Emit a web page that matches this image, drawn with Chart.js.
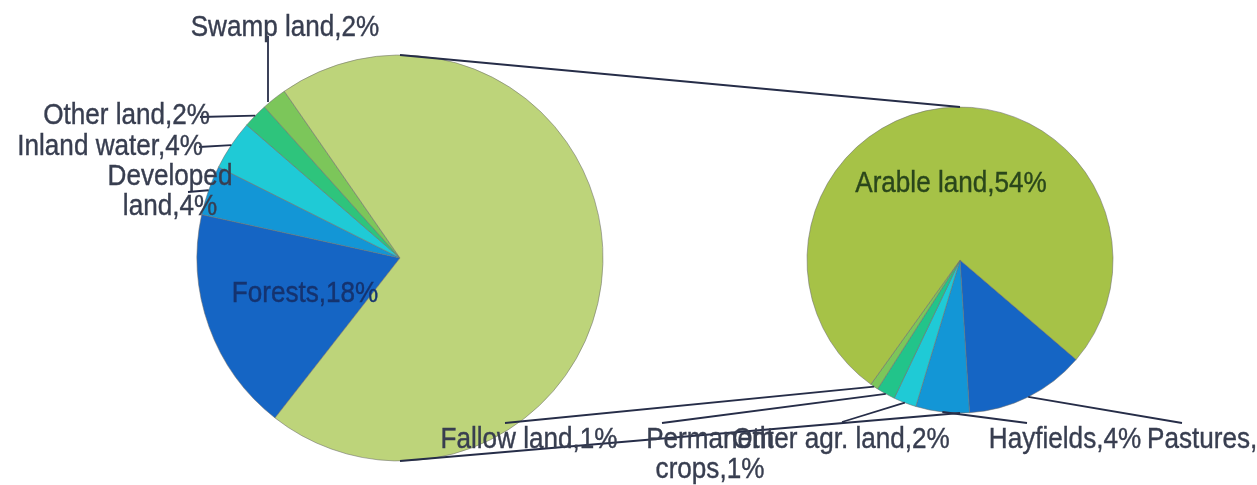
<!DOCTYPE html>
<html>
<head>
<meta charset="utf-8">
<title>Land use</title>
<script src="https://cdn.jsdelivr.net/npm/chart.js@4/dist/chart.umd.min.js"></script>
<style>
    body { margin: 0; background: #ffffff; }
    #wrap { position: relative; width: 1257px; height: 485px; overflow: hidden; }
    #wrap canvas { position: absolute; left: 0; top: 0; }
</style>
</head>
<body>
<div id="wrap">
    <canvas id="mainPie" width="1257" height="485"></canvas>
    <canvas id="agrPie" width="1257" height="485"></canvas>
</div>
<script>
// Land use, total area (left) and agricultural land split (right), share of total in %
const mainLabels = ["Forests", "Developed land", "Inland water", "Other land", "Swamp land", "Agricultural land"];
const mainValues = [18, 4, 4, 2, 2, 70.7];
const mainColors = ["#1565c4", "#1396d6", "#1fcad6", "#2ec47c", "#7cc65a", "#bdd47a"];

const agrLabels = ["Pastures", "Hayfields", "Other agr. land", "Permanent crops", "Fallow land", "Arable land"];
const agrValues = [9, 4, 1.7, 1.4, 0.6, 54];
const agrColors = ["#1565c4", "#1396d6", "#1fcad6", "#22c48a", "#7cc65a", "#a6c247"];

// Layout of the two pies and their labels (pixels)
const mainGeom = { cx: 400, cy: 258, r: 203, rotation: 218 };
const agrGeom = { cx: 960, cy: 260, r: 153, rotation: 130.6 };

const FONT = '29px "Liberation Sans", Arial, sans-serif';
const SQUEEZE = 0.9;
const LINE_H = 30;
const TEXT_COLOR = "#383e50";
const LINE_COLOR = "#262d48";

// label placement: x/y = text anchor (baseline), end = where the leader line stops
const mainLabelPos = {
    "Forests":        { x: 305, y: 302, align: "center", inside: true, color: "#15336f" },
    "Developed land": { x: 170, y: 185, align: "center", end: [188, 192], split: true },
    "Inland water":   { x: 203, y: 155, align: "right", end: [199, 147] },
    "Other land":     { x: 210, y: 124, align: "right", end: [200, 117] },
    "Swamp land":     { x: 285, y: 36, align: "center", start: [268, 102], end: [268, 36] }
};
const agrLabelPos = {
    "Arable land":     { x: 951, y: 192, align: "center", inside: true, color: "#2a461b" },
    "Fallow land":     { x: 529, y: 448, align: "center", end: [505, 423] },
    "Permanent crops": { x: 710, y: 448, align: "center", end: [662, 423], split: true },
    "Other agr. land": { x: 841, y: 448, align: "center", end: [842, 422] },
    "Hayfields":       { x: 1065, y: 448, align: "center", end: [1027, 423] },
    "Pastures":        { x: 1147, y: 448, align: "left", end: [1182, 423] }
};

/**
 * Builds the label text "Name,NN%", optionally broken after the first word.
 */
function labelLines(name, value, split) {
    let text = name + "," + Math.round(value) + "%";
    if (!split) return [text];
    let i = text.indexOf(" ");
    return [text.substring(0, i), text.substring(i + 1)];
}

/**
 * Draws (horizontally squeezed) text lines at the given anchor.
 */
function drawLabel(ctx, lines, x, y, align, color) {
    ctx.save();
    ctx.font = FONT;
    ctx.fillStyle = color;
    ctx.strokeStyle = color;
    ctx.lineWidth = 0.4;
    ctx.textBaseline = "alphabetic";
    ctx.textAlign = "left";
    for (let i = 0; i < lines.length; i++) {
        let w = ctx.measureText(lines[i]).width * SQUEEZE;
        let left = x;
        if (align === "center") left = x - w / 2;
        if (align === "right") left = x - w;
        ctx.save();
        ctx.translate(left, y + i * LINE_H);
        ctx.scale(SQUEEZE, 1);
        ctx.fillText(lines[i], 0, 0);
        ctx.strokeText(lines[i], 0, 0);
        ctx.restore();
    }
    ctx.restore();
}

function drawLine(ctx, x1, y1, x2, y2) {
    ctx.save();
    ctx.strokeStyle = LINE_COLOR;
    ctx.lineWidth = 1.8;
    ctx.beginPath();
    ctx.moveTo(x1, y1);
    ctx.lineTo(x2, y2);
    ctx.stroke();
    ctx.restore();
}

/**
 * Point on the outer edge of an arc element, in the middle of the slice.
 */
function arcEdge(arc) {
    let mid = (arc.startAngle + arc.endAngle) / 2;
    return [arc.x + Math.cos(mid) * arc.outerRadius, arc.y + Math.sin(mid) * arc.outerRadius];
}

function drawPieLabels(chart, names, values, positions) {
    const ctx = chart.ctx;
    const arcs = chart.getDatasetMeta(0).data;
    // leader lines first, text on top
    for (let i = 0; i < names.length; i++) {
        let pos = positions[names[i]];
        if (!pos || !pos.end) continue;
        let p = pos.start || arcEdge(arcs[i]);
        drawLine(ctx, p[0], p[1], pos.end[0], pos.end[1]);
    }
    for (let i = 0; i < names.length; i++) {
        let pos = positions[names[i]];
        if (!pos) continue;
        let lines = labelLines(names[i], values[i], pos.split);
        drawLabel(ctx, lines, pos.x, pos.y, pos.align, pos.inside ? pos.color : TEXT_COLOR);
    }
}

function pieConfig(labels, values, colors, geom, plugin) {
    return {
        type: "pie",
        data: {
            labels: labels,
            datasets: [{
                data: values,
                backgroundColor: colors,
                borderColor: "rgba(110,110,110,0.55)",
                borderWidth: 1
            }]
        },
        options: {
            responsive: false,
            animation: false,
            events: [],
            radius: geom.r,
            rotation: geom.rotation,
            layout: {
                padding: {
                    left: Math.max(0, 2 * geom.cx - 1257),
                    right: Math.max(0, 1257 - 2 * geom.cx),
                    top: Math.max(0, 2 * geom.cy - 485),
                    bottom: Math.max(0, 485 - 2 * geom.cy)
                }
            },
            plugins: {
                legend: { display: false },
                tooltip: { enabled: false }
            }
        },
        plugins: [plugin]
    };
}

let mainChart = new Chart(document.getElementById("mainPie"), pieConfig(mainLabels, mainValues, mainColors, mainGeom, {
    id: "mainLabels",
    afterDraw: function(chart) {
        drawPieLabels(chart, mainLabels, mainValues, mainLabelPos);
    }
}));

let agrChart = new Chart(document.getElementById("agrPie"), pieConfig(agrLabels, agrValues, agrColors, agrGeom, {
    id: "agrLabels",
    afterDraw: function(chart) {
        // connectors between the top and bottom of both pies
        let a = mainChart.getDatasetMeta(0).data[0];
        let b = chart.getDatasetMeta(0).data[0];
        drawLine(chart.ctx, a.x, a.y - a.outerRadius, b.x, b.y - b.outerRadius);
        drawLine(chart.ctx, a.x, a.y + a.outerRadius, b.x, b.y + b.outerRadius);
        drawPieLabels(chart, agrLabels, agrValues, agrLabelPos);
    }
}));
</script>
</body>
</html>
